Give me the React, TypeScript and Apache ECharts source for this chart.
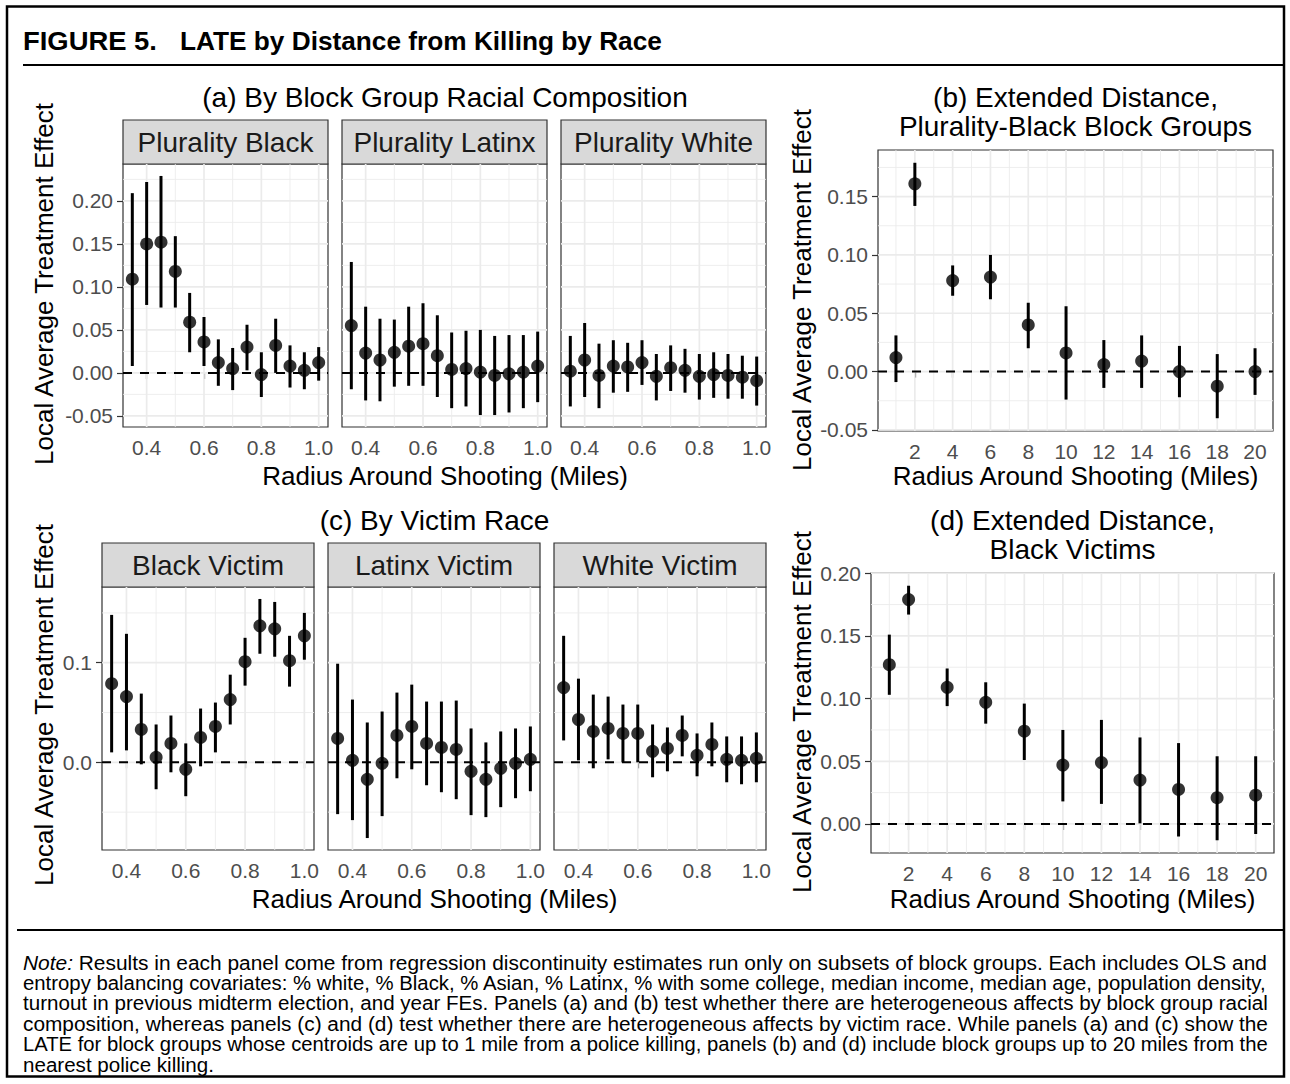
import React, { useEffect, useRef } from "react";
import * as echarts from "echarts";

// ---------------- data ----------------
const radiusNear = [0.35, 0.4, 0.45, 0.5, 0.55, 0.6, 0.65, 0.7, 0.75, 0.8, 0.85, 0.9, 0.95, 1.0];
const radiusFar = [1, 2, 4, 6, 8, 10, 12, 14, 16, 18, 20];

const compFacets = ["Plurality Black", "Plurality Latinx", "Plurality White"];
const victimFacets = ["Black Victim", "Latinx Victim", "White Victim"];

// (a) block group racial composition
const pBlackEst = [0.109, 0.150, 0.152, 0.118, 0.059, 0.036, 0.012, 0.005, 0.030, -0.002, 0.032, 0.008, 0.003, 0.012];
const pBlackLo = [0.008, 0.079, 0.076, 0.076, 0.024, 0.008, -0.015, -0.020, 0.003, -0.028, 0.000, -0.017, -0.019, -0.009];
const pBlackHi = [0.209, 0.222, 0.229, 0.159, 0.093, 0.065, 0.039, 0.029, 0.056, 0.024, 0.063, 0.032, 0.024, 0.030];

const pLatinxEst = [0.055, 0.023, 0.015, 0.024, 0.031, 0.034, 0.020, 0.004, 0.005, 0.001, -0.003, -0.001, 0.001, 0.008];
const pLatinxLo = [-0.019, -0.032, -0.033, -0.016, -0.015, -0.015, -0.028, -0.041, -0.039, -0.049, -0.049, -0.046, -0.041, -0.034];
const pLatinxHi = [0.129, 0.077, 0.063, 0.062, 0.077, 0.081, 0.067, 0.047, 0.049, 0.050, 0.043, 0.044, 0.044, 0.048];

const pWhiteEst = [0.002, 0.015, -0.003, 0.008, 0.007, 0.012, -0.004, 0.006, 0.003, -0.004, -0.002, -0.003, -0.005, -0.009];
const pWhiteLo = [-0.039, -0.028, -0.041, -0.023, -0.022, -0.014, -0.032, -0.021, -0.023, -0.031, -0.029, -0.030, -0.030, -0.038];
const pWhiteHi = [0.043, 0.058, 0.034, 0.038, 0.035, 0.038, 0.022, 0.032, 0.028, 0.022, 0.024, 0.022, 0.020, 0.019];

// (b) extended distance, plurality-Black block groups
const extBlockEst = [0.012, 0.161, 0.078, 0.081, 0.040, 0.016, 0.006, 0.009, 0.000, -0.0125, 0.000];
const extBlockLo = [-0.009, 0.142, 0.065, 0.062, 0.020, -0.024, -0.014, -0.014, -0.022, -0.040, -0.020];
const extBlockHi = [0.031, 0.179, 0.091, 0.100, 0.059, 0.056, 0.027, 0.031, 0.022, 0.015, 0.020];

// (c) victim race
const vBlackEst = [0.079, 0.066, 0.033, 0.005, 0.019, -0.007, 0.025, 0.036, 0.063, 0.101, 0.137, 0.134, 0.102, 0.127];
const vBlackLo = [0.010, 0.012, -0.002, -0.027, -0.010, -0.034, -0.004, 0.010, 0.038, 0.077, 0.109, 0.106, 0.076, 0.103];
const vBlackHi = [0.148, 0.129, 0.069, 0.038, 0.047, 0.019, 0.054, 0.060, 0.088, 0.125, 0.164, 0.161, 0.127, 0.150];

const vLatinxEst = [0.024, 0.002, -0.017, -0.001, 0.027, 0.036, 0.019, 0.015, 0.013, -0.009, -0.017, -0.006, -0.001, 0.003];
const vLatinxLo = [-0.052, -0.058, -0.076, -0.054, -0.016, -0.007, -0.023, -0.030, -0.037, -0.053, -0.055, -0.045, -0.036, -0.029];
const vLatinxHi = [0.099, 0.063, 0.040, 0.051, 0.070, 0.078, 0.061, 0.061, 0.062, 0.034, 0.020, 0.031, 0.034, 0.036];

const vWhiteEst = [0.075, 0.043, 0.031, 0.034, 0.029, 0.029, 0.011, 0.014, 0.027, 0.007, 0.018, 0.003, 0.002, 0.004];
const vWhiteLo = [0.022, 0.002, -0.006, 0.003, 0.000, 0.000, -0.015, -0.009, 0.006, -0.014, -0.004, -0.020, -0.022, -0.020];
const vWhiteHi = [0.127, 0.084, 0.068, 0.066, 0.058, 0.058, 0.038, 0.035, 0.047, 0.029, 0.040, 0.026, 0.026, 0.030];

// (d) extended distance, Black victims
const extVictimEst = [0.127, 0.179, 0.109, 0.097, 0.074, 0.047, 0.049, 0.035, 0.0275, 0.021, 0.023];
const extVictimLo = [0.103, 0.167, 0.094, 0.080, 0.051, 0.018, 0.016, 0.0005, -0.010, -0.013, -0.008];
const extVictimHi = [0.151, 0.190, 0.124, 0.113, 0.096, 0.075, 0.083, 0.069, 0.0645, 0.054, 0.054];

// tick labels / breaks
const nearXTicks = [0.4, 0.6, 0.8, 1.0];
const nearXMinor = [0.3, 0.5, 0.7, 0.9];
const farXTicks = [2, 4, 6, 8, 10, 12, 14, 16, 18, 20];
const farXMinor = [1, 3, 5, 7, 9, 11, 13, 15, 17, 19];
const aYTicks = [-0.05, 0, 0.05, 0.1, 0.15, 0.2];
const aYMinor = [-0.075, -0.025, 0.025, 0.075, 0.125, 0.175, 0.225];
const bYTicks = [-0.05, 0, 0.05, 0.1, 0.15];
const bYMinor = [-0.025, 0.025, 0.075, 0.125, 0.175];
const cYTicks = [0, 0.1];
const cYMinor = [-0.05, 0.05, 0.15];
const dYTicks = [0, 0.05, 0.1, 0.15, 0.2];
const dYMinor = [-0.025, 0.025, 0.075, 0.125, 0.175];

const noteLines = [
  "Results in each panel come from regression discontinuity estimates run only on subsets of block groups. Each includes OLS and",
  "entropy balancing covariates: % white, % Black, % Asian, % Latinx, % with some college, median income, median age, population density,",
  "turnout in previous midterm election, and year FEs. Panels (a) and (b) test whether there are heterogeneous affects by block group racial",
  "composition, whereas panels (c) and (d) test whether there are heterogeneous affects by victim race. While panels (a) and (c) show the",
  "LATE for block groups whose centroids are up to 1 mile from a police killing, panels (b) and (d) include block groups up to 20 miles from the",
  "nearest police killing.",
];

// ---------------- helpers ----------------
const FONT = '"Liberation Sans", Arial, Helvetica, sans-serif';

function expand(vals: number[], f = 0.05): [number, number] {
  const lo = Math.min(...vals);
  const hi = Math.max(...vals);
  const r = hi - lo;
  return [lo - f * r, hi + f * r];
}

let ctx: CanvasRenderingContext2D | null = null;
function textWidth(t: string, font: string): number {
  if (!ctx) ctx = document.createElement("canvas").getContext("2d");
  if (!ctx) return t.length * 10;
  ctx.font = font;
  return ctx.measureText(t).width;
}

type Panel = {
  left: number; top: number; width: number; height: number;
  xs: number[]; est: number[]; lo: number[]; hi: number[];
  xr: [number, number]; yr: [number, number];
  xt: number[]; xm: number[]; yt: number[]; ym: number[];
  xd: number; yd: number; showY: boolean;
};

function buildOption() {
  const compEst = [pBlackEst, pLatinxEst, pWhiteEst];
  const compLo = [pBlackLo, pLatinxLo, pWhiteLo];
  const compHi = [pBlackHi, pLatinxHi, pWhiteHi];
  const vicEst = [vBlackEst, vLatinxEst, vWhiteEst];
  const vicLo = [vBlackLo, vLatinxLo, vWhiteLo];
  const vicHi = [vBlackHi, vLatinxHi, vWhiteHi];

  const nearXR = expand(radiusNear);
  const farXR = expand(radiusFar);
  const yA = expand([...compLo.flat(), ...compHi.flat()]);
  const yB = expand([...extBlockLo, ...extBlockHi]);
  const yC = expand([...vicLo.flat(), ...vicHi.flat()]);
  const yD = expand([...extVictimLo, ...extVictimHi]);

  const panels: Panel[] = [];
  const aLefts = [123, 342, 561];
  compFacets.forEach((_, k) => {
    panels.push({
      left: aLefts[k], top: 164, width: 205, height: 263,
      xs: radiusNear, est: compEst[k], lo: compLo[k], hi: compHi[k],
      xr: nearXR, yr: yA, xt: nearXTicks, xm: nearXMinor, yt: aYTicks, ym: aYMinor,
      xd: 1, yd: 2, showY: k === 0,
    });
  });
  panels.push({
    left: 878, top: 150, width: 395, height: 281,
    xs: radiusFar, est: extBlockEst, lo: extBlockLo, hi: extBlockHi,
    xr: farXR, yr: yB, xt: farXTicks, xm: farXMinor, yt: bYTicks, ym: bYMinor,
    xd: 0, yd: 2, showY: true,
  });
  const cLefts = [102, 328, 554];
  victimFacets.forEach((_, k) => {
    panels.push({
      left: cLefts[k], top: 587, width: 212, height: 263,
      xs: radiusNear, est: vicEst[k], lo: vicLo[k], hi: vicHi[k],
      xr: nearXR, yr: yC, xt: nearXTicks, xm: nearXMinor, yt: cYTicks, ym: cYMinor,
      xd: 1, yd: 1, showY: k === 0,
    });
  });
  panels.push({
    left: 871, top: 573, width: 403, height: 280,
    xs: radiusFar, est: extVictimEst, lo: extVictimLo, hi: extVictimHi,
    xr: farXR, yr: yD, xt: farXTicks, xm: farXMinor, yt: dYTicks, ym: dYMinor,
    xd: 0, yd: 2, showY: true,
  });

  const tickStyle = { color: "#333333", width: 1.2 };
  const labelStyle = { color: "#4D4D4D", fontSize: 21, fontFamily: FONT, lineHeight: 21 };

  const grid = panels.map((p) => ({
    left: p.left, top: p.top, width: p.width, height: p.height,
    show: true, backgroundColor: "#FFFFFF", borderColor: "#333333", borderWidth: 1.2,
    containLabel: false, outerBoundsMode: "none",
  }));

  const xAxis = panels.map((p, i) => ({
    gridIndex: i, type: "value", min: p.xr[0], max: p.xr[1],
    axisLine: { show: false },
    axisTick: { show: true, customValues: p.xt, length: 6, lineStyle: tickStyle },
    axisLabel: {
      show: true, customValues: p.xt, margin: 10, hideOverlap: false,
      formatter: (v: number) => v.toFixed(p.xd), ...labelStyle,
    },
    splitLine: { show: false },
  }));

  const yAxis = panels.map((p, i) => ({
    gridIndex: i, type: "value", min: p.yr[0], max: p.yr[1],
    axisLine: { show: false },
    axisTick: { show: p.showY, customValues: p.yt, length: 6, lineStyle: tickStyle },
    axisLabel: {
      show: p.showY, customValues: p.yt, margin: 10, hideOverlap: false,
      formatter: (v: number) => v.toFixed(p.yd), ...labelStyle,
    },
    splitLine: { show: false },
  }));

  const series: any[] = [];
  panels.forEach((p, i) => {
    const lines: number[][] = [];
    p.xm.forEach((v) => { if (v > p.xr[0] && v < p.xr[1]) lines.push([v, 0, 0]); });
    p.ym.forEach((v) => { if (v > p.yr[0] && v < p.yr[1]) lines.push([v, 1, 0]); });
    p.xt.forEach((v) => { if (v > p.xr[0] && v < p.xr[1]) lines.push([v, 0, 1]); });
    p.yt.forEach((v) => { if (v > p.yr[0] && v < p.yr[1]) lines.push([v, 1, 1]); });

    series.push({
      type: "custom", xAxisIndex: i, yAxisIndex: i, silent: true, z: 1,
      data: lines,
      renderItem: (params: any, api: any) => {
        const v = api.value(0);
        const o = api.value(1);
        const major = api.value(2);
        const cs = params.coordSys;
        const style = { stroke: "#EBEBEB", lineWidth: major ? 1.7 : 0.85 };
        if (o === 0) {
          const px = api.coord([v, p.yr[0]])[0];
          return { type: "line", shape: { x1: px, y1: cs.y, x2: px, y2: cs.y + cs.height }, style };
        }
        const py = api.coord([p.xr[0], v])[1];
        return { type: "line", shape: { x1: cs.x, y1: py, x2: cs.x + cs.width, y2: py }, style };
      },
    });

    series.push({
      type: "custom", xAxisIndex: i, yAxisIndex: i, silent: true, z: 2,
      data: [[p.xr[0], 0]],
      renderItem: (params: any, api: any) => {
        const cs = params.coordSys;
        const py = api.coord([p.xr[0], 0])[1];
        return {
          type: "line",
          shape: { x1: cs.x, y1: py, x2: cs.x + cs.width, y2: py },
          style: { stroke: "#000000", lineWidth: 2, lineDash: [9, 8] },
        };
      },
    });

    series.push({
      type: "custom", xAxisIndex: i, yAxisIndex: i, silent: true, z: 3,
      encode: { x: 0, y: [1, 2] },
      data: p.xs.map((x, j) => [x, p.lo[j], p.hi[j]]),
      renderItem: (_params: any, api: any) => {
        const a = api.coord([api.value(0), api.value(1)]);
        const b = api.coord([api.value(0), api.value(2)]);
        return {
          type: "line",
          shape: { x1: a[0], y1: a[1], x2: b[0], y2: b[1] },
          style: { stroke: "#000000", lineWidth: 3 },
        };
      },
    });

    series.push({
      type: "scatter", xAxisIndex: i, yAxisIndex: i, silent: true, z: 4,
      symbol: "circle", symbolSize: 13,
      itemStyle: { color: "#000000" },
      data: p.xs.map((x, j) => [x, p.est[j]]),
    });
  });

  // ---------------- graphics ----------------
  const g: any[] = [];
  const txt = (text: string, x: number, y: number, o: any = {}) => ({
    type: "text", x, y, silent: true,
    rotation: o.rot ?? 0, scaleX: o.sx ?? 1,
    style: {
      text, fontFamily: FONT, fontSize: o.size ?? 25, fontWeight: o.weight ?? "normal",
      fill: o.fill ?? "#000000", align: o.align ?? "center", verticalAlign: "middle",
      rich: o.rich,
    },
  });

  g.push({ type: "rect", silent: true, shape: { x: 7, y: 6.5, width: 1277, height: 1070 }, style: { fill: "none", stroke: "#000000", lineWidth: 2.5 } });

  // header
  const hFont = `bold 26px ${FONT}`;
  const h1 = "FIGURE 5.";
  const h2 = "LATE by Distance from Killing by Race";
  g.push(txt(h1, 23, 41, { size: 26, weight: "bold", align: "left", sx: 134 / textWidth(h1, hFont) }));
  g.push(txt(h2, 180, 41, { size: 26, weight: "bold", align: "left", sx: 482 / textWidth(h2, hFont) }));
  g.push({ type: "line", silent: true, shape: { x1: 23, y1: 65, x2: 1284, y2: 65 }, style: { stroke: "#000000", lineWidth: 2 } });

  // panel titles
  const TS = 28;
  g.push(txt("(a) By Block Group Racial Composition", 445, 97, { size: TS }));
  g.push(txt("(b) Extended Distance,", 1075.5, 97, { size: TS }));
  g.push(txt("Plurality-Black Block Groups", 1075.5, 126, { size: TS }));
  g.push(txt("(c) By Victim Race", 434.5, 520, { size: TS }));
  g.push(txt("(d) Extended Distance,", 1072.5, 520, { size: TS }));
  g.push(txt("Black Victims", 1072.5, 549, { size: TS }));

  // strips
  const strips: [string, Panel][] = [
    ...compFacets.map((n, k) => [n, panels[k]] as [string, Panel]),
    ...victimFacets.map((n, k) => [n, panels[4 + k]] as [string, Panel]),
  ];
  strips.forEach(([name, p]) => {
    g.push({ type: "rect", silent: true, shape: { x: p.left, y: p.top - 44, width: p.width, height: 44 }, style: { fill: "#D9D9D9", stroke: "#333333", lineWidth: 1.2 } });
    g.push(txt(name, p.left + p.width / 2, p.top - 22, { size: 28, fill: "#1A1A1A" }));
  });

  // axis titles
  const xTitle = "Radius Around Shooting (Miles)";
  const yTitle = "Local Average Treatment Effect";
  const AS = 26;
  g.push(txt(xTitle, 445, 476, { size: AS }));
  g.push(txt(xTitle, 1075.5, 476, { size: AS }));
  g.push(txt(xTitle, 434.5, 899, { size: AS }));
  g.push(txt(xTitle, 1072.5, 899, { size: AS }));
  g.push(txt(yTitle, 44, 284, { size: AS, rot: Math.PI / 2 }));
  g.push(txt(yTitle, 802, 290, { size: AS, rot: Math.PI / 2 }));
  g.push(txt(yTitle, 44, 705, { size: AS, rot: Math.PI / 2 }));
  g.push(txt(yTitle, 802, 712, { size: AS, rot: Math.PI / 2 }));

  // note
  g.push({ type: "line", silent: true, shape: { x1: 17, y1: 930, x2: 1284, y2: 930 }, style: { stroke: "#000000", lineWidth: 2 } });
  const nSize = 21;
  const nFont = `${nSize}px ${FONT}`;
  const nItal = `italic ${nSize}px ${FONT}`;
  const noteW = 1245;
  const scales: number[] = [];
  noteLines.forEach((line, k) => {
    let w = textWidth(line, nFont);
    if (k === 0) w += textWidth("Note: ", nItal);
    if (k < noteLines.length - 1) scales.push(noteW / w);
  });
  const avgScale = scales.reduce((a, b) => a + b, 0) / scales.length;
  noteLines.forEach((line, k) => {
    const y = 962 + k * 20.4;
    const sx = k < noteLines.length - 1 ? scales[k] : avgScale;
    if (k === 0) {
      g.push(txt("{i|Note:} " + line, 23, y, {
        size: nSize, align: "left", sx,
        rich: { i: { fontStyle: "italic", fontSize: nSize, fontFamily: FONT, fill: "#000000" } },
      }));
    } else {
      g.push(txt(line, 23, y, { size: nSize, align: "left", sx }));
    }
  });

  return {
    animation: false,
    backgroundColor: "#FFFFFF",
    grid, xAxis, yAxis, series,
    graphic: { elements: g },
  };
}

export default function App() {
  const ref = useRef<HTMLDivElement>(null);
  useEffect(() => {
    const el = ref.current;
    if (!el) return;
    const chart = echarts.init(el, null, { renderer: "svg", width: 1290, height: 1084 });
    chart.setOption(buildOption() as any);
    return () => chart.dispose();
  }, []);
  return (
    <div
      ref={ref}
      style={{ position: "absolute", left: 0, top: 0, width: 1290, height: 1084, background: "#fff" }}
    />
  );
}
